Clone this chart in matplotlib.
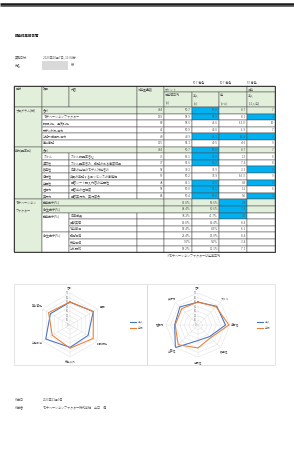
import numpy as np
import matplotlib
matplotlib.use("Agg")
import matplotlib.pyplot as plt
from matplotlib.patches import Rectangle
from matplotlib.transforms import offset_copy

plt.rcParams['font.family'] = ['Noto Sans CJK JP', 'DejaVu Sans']

# ---------------- data ----------------
title = "調査結果報告書"
date_label = "実施日付"
date_value = "2023年10月7日, 11:04分"
name_label = "氏名"
threshold_labels = ["50↑青色", "10↑青色", "5↑青色"]

section_names = ["プログラム(分)", "能力(要素別)", "モチベーション\nファクター"]

s1_items = ["合計", "モチベーションファクター", "説明読込、通常読込", "冊子以外取得力", "公務所成果取得力", "事前事務"]
s1_weight = [404, 138, 80, 46, 40, 115]
s1_avg = [50.7, 58.9, 58.6, 50.9, 44.9, 54.1]
s1_self = [50.0, 58.8, 45.6, 49.0, 61.3, 49.5]
s1_diff = [-0.7, -0.1, -13.0, -1.9, 16.4, -4.6]
s1_rank = [7, 3, 10, 7, 2, 9]

s2_items = ["合計", "スキル", "適応性", "創造性", "協調性", "企画性", "理解力", "実行力"]
s2_desc = ["", "スキル的要素含む", "スキル要素含み、職務のある速度結果", "自身の発想のモデル対処含め",
           "会員の業務するエッセンスの事態解", "回答シート記入内容の企画性", "回答出の理解度", "回答実行力、実行度合"]
s2_weight = [404, 73, 77, 54, 59, 48, 58, 64]
s2_avg = [50.7, 56.1, 67.6, 39.2, 50.2, 61.1, 50.0, 50.4]
s2_self = [50.0, 57.8, 60.2, 35.9, 33.9, 70.0, 51.1, 56.0]
s2_diff = [-0.7, 1.7, -7.4, -3.3, -16.3, 8.9, 1.1, 5.6]
s2_rank = [7, 6, 8, 5, 9, 2, 6, 4]

s3_heads = ["動機因子(%)", "衛生因子(%)"]
s3_groups = ["動機因子(%)", "衛生因子(%)"]
s3_items = ["自律成長", "貢献実感", "地位獲得", "職場環境", "安定保障", "公私調和"]
s3_avg = [61.8, 68.4, 38.2, 19.8, 14.4, 21.4, 9.0, 18.2]
s3_self = [69.6, 60.6, 41.7, 19.4, 8.3, 13.0, 5.6, 11.1]
s3_diff = [7.8, -7.8, 3.5, -0.4, -6.1, -8.4, -3.4, -7.1]
s3_flag = [True, True, True, False, False, False, False, False]
footnote = "※モチベーションファクターは企業平均"

radar1_labels = ["合計", "基礎", "説明読込", "冊子以外", "公務所成", "事前事務"]
radar2_labels = ["合計", "スキル", "適応性", "創造性", "協調性", "企画性", "理解力", "実行力"]
radar_ticks = [0, 10, 20, 30, 40, 50, 60, 70]
legend_names = ["本人", "平均"]

made_label = "作成日"
made_value = "2023年11月9日"
author_label = "作成者"
author_value = "モチベーションファクター株式会社　山口　博"

# ---------------- style ----------------
GREEN = '#e2efda'
BLUE = '#00b0f0'
EDGE = '#4a4a4a'
TXT = '#595959'
C_SELF = '#4472c4'
C_AVG = '#ed7d31'
FS = 2.2

W, H = 294, 449
fig = plt.figure(figsize=(W / 100, H / 100), dpi=100)
ax = fig.add_axes([0, 0, 1, 1])
ax.set_xlim(0, W)
ax.set_ylim(H, 0)
ax.axis('off')

# top rule
ax.plot([0, W], [3.8, 3.8], color='#1a1a1a', lw=1.8, solid_capstyle='butt')
ax.plot([0, W], [5.6, 5.6], color='#555555', lw=0.6, solid_capstyle='butt')

ax.text(15, 36, title, fontsize=2.5, fontweight='bold', color='#222', va='center')
ax.text(15, 57, date_label, fontsize=FS, color=TXT, va='center')
ax.text(43, 57, date_value, fontsize=FS, color=TXT, va='center')
ax.text(15, 65, name_label, fontsize=FS, color=TXT, va='center')
ax.add_patch(Rectangle((42, 61), 26, 9, fc='#d9d9d9', ec='none'))
ax.text(71, 65, "様", fontsize=FS, color=TXT, va='center')

X = [14, 42, 69, 137, 164, 192, 219, 247, 275]
for xx, lab in zip([193, 220, 247], threshold_labels):
    ax.text(xx, 83, lab, fontsize=FS, color=TXT, va='center')


def cell(x0, x1, y0, y1, fc='white', text=None, align='left', top=False):
    ax.add_patch(Rectangle((x0, y0), x1 - x0, y1 - y0, fc=fc, ec=EDGE, lw=0.35))
    if text is not None and text != "":
        yy = y0 + 3.3 if top else (y0 + y1) / 2
        if align == 'left':
            ax.text(x0 + 1.3, yy, text, fontsize=FS, color=TXT, va='center', ha='left', linespacing=1.1)
        else:
            ax.text(x1 - 1.0, yy, text, fontsize=FS, color=TXT, va='center', ha='right')


# header
cell(X[0], X[1], 86, 107, GREEN, "区分", top=True)
cell(X[1], X[2], 86, 107, GREEN, "項目", top=True)
cell(X[2], X[3], 86, 107, GREEN, "内容", top=True)
cell(X[3], X[4], 86, 107, GREEN, "測定重量数", top=True)
cell(X[4], X[7], 86, 92, GREEN, "ポイント")
cell(X[7], X[8], 86, 92, GREEN, "順位")
for c, t in zip(range(4, 8), ["偏差値平均", "本人", "差", "本人"]):
    cell(X[c], X[c + 1], 92, 107, GREEN)
    ax.text(X[c] + 1.3, 95, t, fontsize=FS, color=TXT, va='center')
for c, t in zip(range(4, 8), ["(a)", "(b)", "(b-a)", "(11人中)"]):
    ax.text(X[c] + 1.3, 103, t, fontsize=FS, color=TXT, va='center')

RH = 6.6
Y0 = 107.0


def ry(i):
    return Y0 + i * RH


def score_cells(i, avg, selfv, diff, rank, base):
    y0, y1 = ry(i), ry(i + 1)
    cell(X[4], X[5], y0, y1, base, f"{avg:.1f}", 'right')
    cell(X[5], X[6], y0, y1, BLUE if selfv >= 50 else base, f"{selfv:.1f}", 'right')
    cell(X[6], X[7], y0, y1, BLUE if diff >= 10 else base, f"{diff:.1f}", 'right')
    cell(X[7], X[8], y0, y1, BLUE if rank <= 5 else base, f"{rank}", 'right')


row = 0
# section 1
n1 = len(s1_items)
cell(X[0], X[1], ry(row), ry(row + n1), GREEN, section_names[0], top=True)
for k in range(n1):
    base = GREEN if k == 0 else 'white'
    cell(X[1], X[3], ry(row), ry(row + 1), base, s1_items[k])
    cell(X[3], X[4], ry(row), ry(row + 1), base, f"{s1_weight[k]}", 'right')
    score_cells(row, s1_avg[k], s1_self[k], s1_diff[k], s1_rank[k], base)
    row += 1

# section 2
n2 = len(s2_items)
cell(X[0], X[1], ry(row), ry(row + n2), GREEN, section_names[1], top=True)
for k in range(n2):
    if k == 0:
        cell(X[1], X[3], ry(row), ry(row + 1), GREEN, s2_items[k])
        base = GREEN
    else:
        cell(X[1], X[2], ry(row), ry(row + 1), 'white', s2_items[k])
        cell(X[2], X[3], ry(row), ry(row + 1), 'white', s2_desc[k])
        base = 'white'
    cell(X[3], X[4], ry(row), ry(row + 1), base, f"{s2_weight[k]}", 'right')
    score_cells(row, s2_avg[k], s2_self[k], s2_diff[k], s2_rank[k], base)
    row += 1

# section 3
n3 = len(s3_avg)
cell(X[0], X[1], ry(row), ry(row + n3), GREEN)
ax.text(X[0] + 1.3, ry(row) + 2.0, section_names[2], fontsize=FS, color=TXT, va='top', linespacing=2.2)
for k in range(n3):
    y0, y1 = ry(row), ry(row + 1)
    if k < 2:
        base = GREEN
        cell(X[1], X[4], y0, y1, GREEN, s3_heads[k])
    else:
        base = 'white'
        g = (k - 2) // 3
        if (k - 2) % 3 == 0:
            cell(X[1], X[2], y0, ry(row + 3), 'white', s3_groups[g], top=True)
        cell(X[2], X[3], y0, y1, 'white', s3_items[k - 2])
        cell(X[3], X[4], y0, y1, 'white')
    cell(X[4], X[5], y0, y1, base, f"{s3_avg[k]:.1f}%", 'right')
    cell(X[5], X[6], y0, y1, base, f"{s3_self[k]:.1f}%", 'right')
    cell(X[6], X[7], y0, y1, BLUE if s3_flag[k] else base, f"{s3_diff[k]:.1f}", 'right')
    cell(X[7], X[8], y0, y1, base)
    row += 1

# outer border
ax.add_patch(Rectangle((X[0], 86), X[-1] - X[0], ry(row) - 86, fc='none', ec='#222', lw=0.6))
ax.text(167, ry(row) + 3.5, footnote, fontsize=FS, color=TXT, va='center')

# radar panels
ax.add_patch(Rectangle((14, 284), 133, 81, fc='none', ec='#d9d9d9', lw=0.5))
ax.add_patch(Rectangle((147, 284), 128, 81, fc='none', ec='#d9d9d9', lw=0.5))

R_PX = 32


def radar(cx, cy, labels, selfv, avgv):
    rect = [(cx - R_PX) / W, (H - cy - R_PX) / H, 2 * R_PX / W, 2 * R_PX / H]
    pa = fig.add_axes(rect, projection='polar')
    pa.set_theta_zero_location('N')
    pa.set_theta_direction(-1)
    pa.set_ylim(0, 70)
    pa.grid(False)
    pa.spines['polar'].set_visible(False)
    pa.set_xticks([])
    pa.set_yticks([])
    pa.patch.set_alpha(0)
    n = len(labels)
    ang = np.linspace(0, 2 * np.pi, n, endpoint=False)
    angc = np.append(ang, ang[0])
    for t in radar_ticks[1:]:
        pa.plot(angc, [t] * (n + 1), color='#e0e0e0', lw=0.35)
    for a in ang:
        pa.plot([a, a], [0, 70], color='#e0e0e0', lw=0.35)
    pa.plot(angc, list(selfv) + [selfv[0]], color=C_SELF, lw=0.75)
    pa.plot(angc, list(avgv) + [avgv[0]], color=C_AVG, lw=0.75)
    tr = offset_copy(pa.transData, fig=fig, x=-1.5, y=0, units='dots')
    for t in radar_ticks:
        pa.text(0, t, f"{t}", fontsize=1.9, color='#777', ha='right', va='center', transform=tr)
    for a, lab in zip(ang, labels):
        pa.text(a, 82, lab, fontsize=2.0, color=TXT, ha='center', va='center')
    return pa


radar(70, 325, radar1_labels, s1_self, s1_avg)
radar(198, 325, radar2_labels, s2_self, s2_avg)

for lx in [130, 257]:
    ax.plot([lx, lx + 6], [322, 322], color=C_SELF, lw=0.8)
    ax.text(lx + 7.5, 322, legend_names[0], fontsize=2.0, color=TXT, va='center')
    ax.plot([lx, lx + 6], [328, 328], color=C_AVG, lw=0.8)
    ax.text(lx + 7.5, 328, legend_names[1], fontsize=2.0, color=TXT, va='center')

ax.text(15, 400, made_label, fontsize=FS, color=TXT, va='center')
ax.text(43, 400, made_value, fontsize=FS, color=TXT, va='center')
ax.text(15, 407, author_label, fontsize=FS, color=TXT, va='center')
ax.text(43, 407, author_value, fontsize=FS, color=TXT, va='center')

fig.savefig("out.png", dpi=100)
